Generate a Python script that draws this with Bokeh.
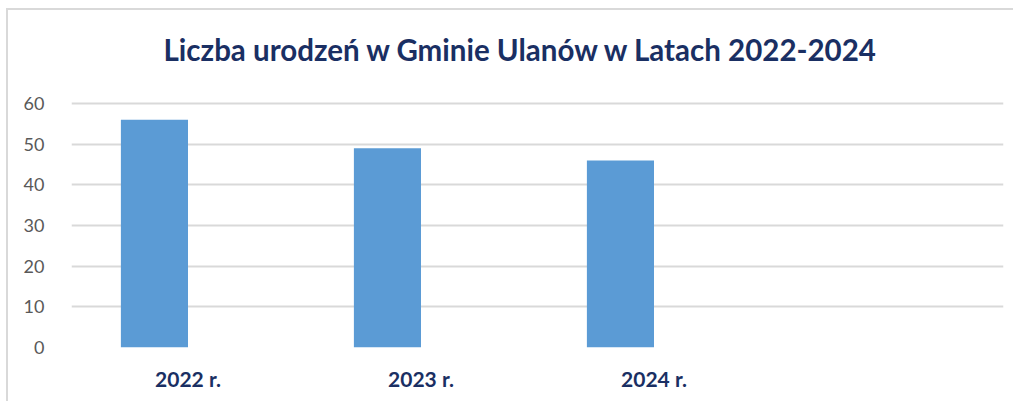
from bokeh.plotting import figure
from bokeh.models import Range1d, ColumnDataSource, FixedTicker, FactorRange, Label
from bokeh.transform import dodge
from bokeh.embed import file_html
from bokeh.resources import INLINE

title_text = "Liczba urodzeń w Gminie Ulanów w Latach 2022-2024"
categories = ["2022 r.", "2023 r.", "2024 r."]
empty_slot = [" "]
births = [56, 49, 46]
y_ticks = [0, 10, 20, 30, 40, 50, 60]

NAVY = "#1A2F63"
BAR = "#5B9BD5"
GRID = "#D9D9D9"

src = ColumnDataSource(data=dict(cat=categories, val=births))

p = figure(
    width=1007, height=393,
    x_range=FactorRange(factors=categories + empty_slot, range_padding=0),
    y_range=Range1d(0, 82.85),
    output_backend="svg", toolbar_location=None,
    min_border_left=63, min_border_right=12, min_border_top=0, min_border_bottom=56,
)
p.styles = {"border-left": f"2px solid {GRID}", "border-top": f"2px solid {GRID}",
            "margin-left": "6px", "margin-top": "8px"}

p.vbar(x=dodge("cat", -0.144, range=p.x_range), top="val", width=0.288,
       source=src, color=BAR, line_color=None)

title = Label(text=title_text, x=0.395, y=73.3,
              text_align="left", text_baseline="alphabetic",
              text_font="Lato", text_font_style="bold", text_font_size="29.5px",
              text_color=NAVY)
p.add_layout(title)

p.outline_line_color = None
p.xgrid.grid_line_color = None
p.ygrid.grid_line_color = GRID
p.ygrid.grid_line_width = 2
p.yaxis.ticker = FixedTicker(ticks=y_ticks)

for ax in (p.xaxis, p.yaxis):
    ax.axis_line_color = None
    ax.major_tick_line_color = None
    ax.minor_tick_line_color = None

p.yaxis.major_label_text_font = "Lato"
p.yaxis.major_label_text_font_size = "18px"
p.yaxis.major_label_text_color = "#595959"
p.yaxis.major_label_standoff = 21

p.xaxis.major_label_text_font = "Lato"
p.xaxis.major_label_text_font_style = "bold"
p.xaxis.major_label_text_font_size = "21px"
p.xaxis.major_label_text_color = NAVY
p.xaxis.major_label_standoff = 12

open("out.html", "w").write(file_html(p, INLINE))
